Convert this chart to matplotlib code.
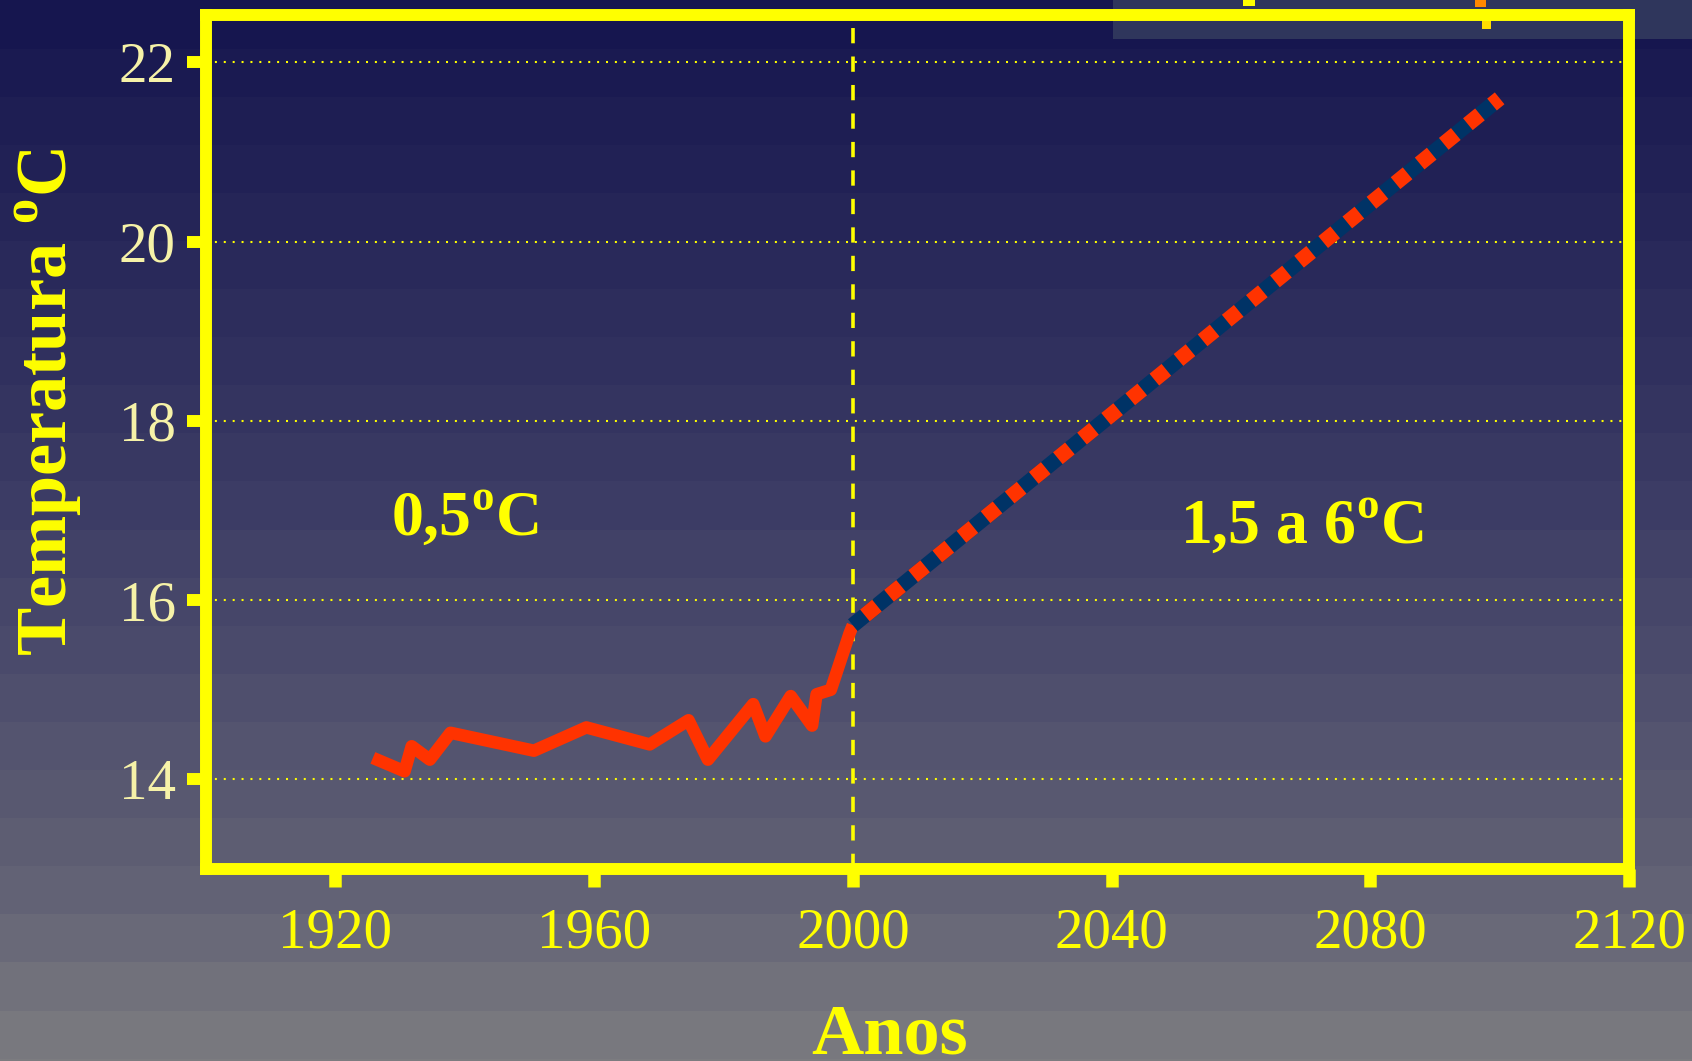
import numpy as np
import matplotlib
matplotlib.use("Agg")
import matplotlib.pyplot as plt
from matplotlib.patches import Rectangle

# ---------------- data ----------------
hist_years = [1925.8, 1930.7, 1931.8, 1934.6, 1937.8, 1950.7, 1958.8, 1968.6, 1974.6,
              1977.6, 1984.6, 1986.5, 1990.4, 1993.7, 1994.4, 1996.6, 1999.5, 2000.0]
hist_temp = [14.24, 14.09, 14.37, 14.22, 14.52, 14.32, 14.58, 14.39, 14.66,
             14.22, 14.84, 14.48, 14.93, 14.60, 14.95, 15.00, 15.63, 15.72]
proj_years = [2000, 2100]
proj_temp = [15.72, 21.6]
x_ticks = [1920, 1960, 2000, 2040, 2080, 2120]
y_ticks = [14, 16, 18, 20, 22]
label_hist = r"0,5$^{\mathbf{o}}$C"
label_proj = r"1,5 a 6$^{\mathbf{o}}$C"
xlabel = "Anos"
ylabel = r"Temperatura $^{\mathbf{o}}$C"

# ---------------- style ----------------
plt.rcParams["font.family"] = ["Liberation Serif", "DejaVu Serif"]
plt.rcParams["mathtext.fontset"] = "custom"
plt.rcParams["mathtext.rm"] = "Liberation Serif"
plt.rcParams["mathtext.bf"] = "Liberation Serif:bold"
plt.rcParams["lines.scale_dashes"] = False

W, H = 1692, 1061
fig = plt.figure(figsize=(W / 100, H / 100), dpi=100)

# background banded gradient
bg = fig.add_axes([0, 0, 1, 1], zorder=-10)
bg.set_axis_off()
stops_y = [0, 480, 620, 870, 1061]
stops_c = np.array([[21, 21, 78], [58, 58, 100], [72, 72, 106], [96, 96, 116], [124, 124, 128]]) / 255.0
band = 48.1
rows = np.arange(H)
centers = (np.floor(rows / band) + 0.5) * band
img = np.stack([np.interp(centers, stops_y, stops_c[:, k]) for k in range(3)], axis=1)
img = np.repeat(img[:, None, :], 4, axis=1)
bg.imshow(img, aspect="auto", extent=[0, 1, 0, 1], origin="upper")
bg.set_xlim(0, 1)
bg.set_ylim(0, 1)
bg.add_patch(Rectangle((1113 / W, 1 - 39 / H), 1 - 1113 / W, 39 / H,
                       facecolor="#2f365c", edgecolor="none"))
# small leftover marks at the top edge
bg.add_patch(Rectangle((1243 / W, 1 - 6 / H), 12 / W, 6 / H, facecolor="#ffff00", edgecolor="none"))
bg.add_patch(Rectangle((1475 / W, 1 - 7 / H), 11 / W, 7 / H, facecolor="#ff8800", edgecolor="none"))
bg.add_patch(Rectangle((1482 / W, 1 - 29 / H), 9 / W, 10 / H, facecolor="#ffdd00", edgecolor="none",
                       zorder=20))

YEL = "#ffff00"
PALE = "#f6f2a8"
RED = "#ff3300"
NAVY = "#003366"

ax = fig.add_axes([206 / W, 1 - 869 / H, (1629 - 206) / W, (869 - 15) / H])
ax.set_facecolor("none")
ax.set_xlim(1900, 2120)
ax.set_ylim(13, 22.53)

# grid
for yv in y_ticks:
    ax.axhline(yv, color=YEL, lw=1.5, linestyle=(0, (1.44, 4.96)), zorder=1)
ax.axvline(2000, color=YEL, lw=2.6, linestyle=(0, (11, 9.5)), zorder=2)

# lines
ax.plot(hist_years, hist_temp, color=RED, lw=9, solid_capstyle="butt",
        solid_joinstyle="round", zorder=3)
ax.plot(proj_years, proj_temp, color=NAVY, lw=11, solid_capstyle="butt", zorder=4)
ax.plot(proj_years, proj_temp, color=RED, lw=11, linestyle=(11.2, (11.2, 11.2)),
        dash_capstyle="butt", zorder=5)

# annotations
ax.text(1940, 16.73, label_hist, color=YEL, fontsize=46, fontweight="bold",
        ha="center", va="baseline", zorder=6)
ax.text(2069.4, 16.64, label_proj, color=YEL, fontsize=46, fontweight="bold",
        ha="center", va="baseline", zorder=6)

# spines & ticks
for s in ax.spines.values():
    s.set_color(YEL)
    s.set_linewidth(8.6)
    s.set_capstyle("projecting")
ax.set_xticks(x_ticks)
ax.set_yticks(y_ticks)
ax.set_xticklabels([str(v) for v in x_ticks])
ax.set_yticklabels([str(v) for v in y_ticks])
ax.tick_params(axis="y", direction="out", length=13.7, width=8.6, color=YEL,
               labelcolor=PALE, labelsize=41, pad=8)
ax.tick_params(axis="x", direction="out", length=13, width=9, color=YEL,
               labelcolor=YEL, labelsize=41, pad=15)

fig.text(890 / W, 1 - 1053 / H, xlabel, color=YEL, fontsize=52, fontweight="bold",
         ha="center", va="baseline")
fig.text(67 / W, 1 - 402 / H, ylabel, color=YEL, fontsize=52, fontweight="bold",
         ha="center", va="baseline", rotation=90, rotation_mode="anchor")

fig.savefig("out.png", dpi=100)
